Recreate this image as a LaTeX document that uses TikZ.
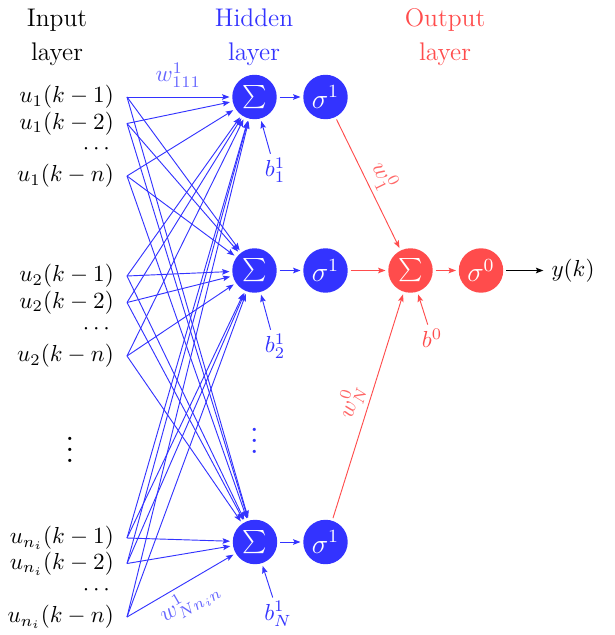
\documentclass[tikz,border=0pt]{standalone}
\usepackage{amsmath,amssymb}
\usetikzlibrary{arrows.meta,positioning}
\newcommand{\layerdots}{\vbox{\baselineskip=4.6pt\lineskiplimit=0pt\hbox{.}\hbox{.}\hbox{.}}}

\begin{document}
\begin{tikzpicture}[x=0.4318pt,y=-0.4318pt,
  inp/.style={anchor=east,inner xsep=5.5pt,inner ysep=1pt},
  hid/.style={circle,fill=blue!80,text=white,minimum size=19.2pt,inner sep=0pt,outer sep=1.2pt},
  outp/.style={hid,fill=red!70},
  head/.style={align=center,font=\fontsize{11}{14.7}\selectfont},
  bias/.style={inner sep=1.5pt},
  wlab/.style={inner sep=2pt},
  ar/.style={-{Stealth[length=3.2pt,width=2.4pt,inset=0.6pt]}}]
  \useasboundingbox (0,0) rectangle (614,635);
  % layer titles
  \node[head] (tin) at (57,37) {Input\\layer};
  \node[head,text=blue!80] (thid) at (254,37) {Hidden\\layer};
  \node[head,text=red!70] (tout) at (445,37) {Output\\layer};
  % inputs
  \node[inp] (x11) at (127,97) {$u_1(k-1)$};
  \node[inp] (x12) at (127,123.5) {$u_1(k-2)$};
  \node[inp] (x1d) at (127,149) {$\cdots$};
  \node[inp] (x1n) at (127,176) {$u_1(k-n)$};
  \node[inp] (x21) at (127,276) {$u_2(k-1)$};
  \node[inp] (x22) at (127,302.5) {$u_2(k-2)$};
  \node[inp] (x2d) at (127,329) {$\cdots$};
  \node[inp] (x2n) at (127,356) {$u_2(k-n)$};
  \node[font=\Large] (xdots) at (70,450) {\layerdots};
  \node[inp] (xN1) at (127,538) {$u_{n_i}(k-1)$};
  \node[inp] (xN2) at (127,563.5) {$u_{n_i}(k-2)$};
  \node[inp] (xNd) at (127,590) {$\cdots$};
  \node[inp] (xNn) at (127,617) {$u_{n_i}(k-n)$};
  % hidden layer
  \node[hid] (h1) at (254.5,97) {$\sum$};
  \node[hid] (h2) at (254.5,270.5) {$\sum$};
  \node[hid] (hN) at (255,542) {$\sum$};
  \node[hid,font=\large] (a1) at (325.5,97) {$\sigma^1$};
  \node[hid,font=\large] (a2) at (325.5,270.5) {$\sigma^1$};
  \node[hid,font=\large] (aN) at (325.5,542) {$\sigma^1$};
  \node[font=\Large,text=blue!80] (hdots) at (254.3,441) {\layerdots};
  \node[bias,text=blue!80] (b1) at (275,170) {$b_1^1$};
  \node[bias,text=blue!80] (b2) at (275,346) {$b_2^1$};
  \node[bias,text=blue!80] (bN) at (278,614) {$b_N^1$};
  % output layer
  \node[outp] (o) at (410.5,270.5) {$\sum$};
  \node[outp,font=\large] (ao) at (481,270.5) {$\sigma^0$};
  \node[bias,text=red!70] (bo) at (432,338) {$b^0$};
  \node (y) at (573,270.5) {$y(k)$};
  % connections
  \foreach \i in {x11,x12,x1n,x21,x22,x2n,xN1,xN2,xNn}
    \foreach \h in {h1,h2,hN}
      \draw[ar,blue!80] (\i.east) -- (\h);
  \path (x11.east) -- (h1) node[midway,above=2pt,wlab,text=blue!60] (w111) {$w_{111}^1$};
  \path (xNn.east) -- (hN) node[midway,below,sloped,wlab,text=blue!60] (wNn) {$w_{Nn_in}^1$};
  \foreach \a/\b in {h1/a1,h2/a2,hN/aN,b1/h1,b2/h2,bN/hN} \draw[ar,blue!80] (\a) -- (\b);
  \draw[ar,red!70] (a1) -- node[midway,above,sloped,wlab,text=red!60] (w1o) {$w_1^0$} (o);
  \draw[ar,red!70] (aN) -- node[midway,above,sloped,wlab,text=red!60] (wNo) {$w_N^0$} (o);
  \foreach \a/\b in {a2/o,o/ao,bo/o} \draw[ar,red!70] (\a) -- (\b);
  \draw[ar] (ao) -- (y);
\end{tikzpicture}
\end{document}
